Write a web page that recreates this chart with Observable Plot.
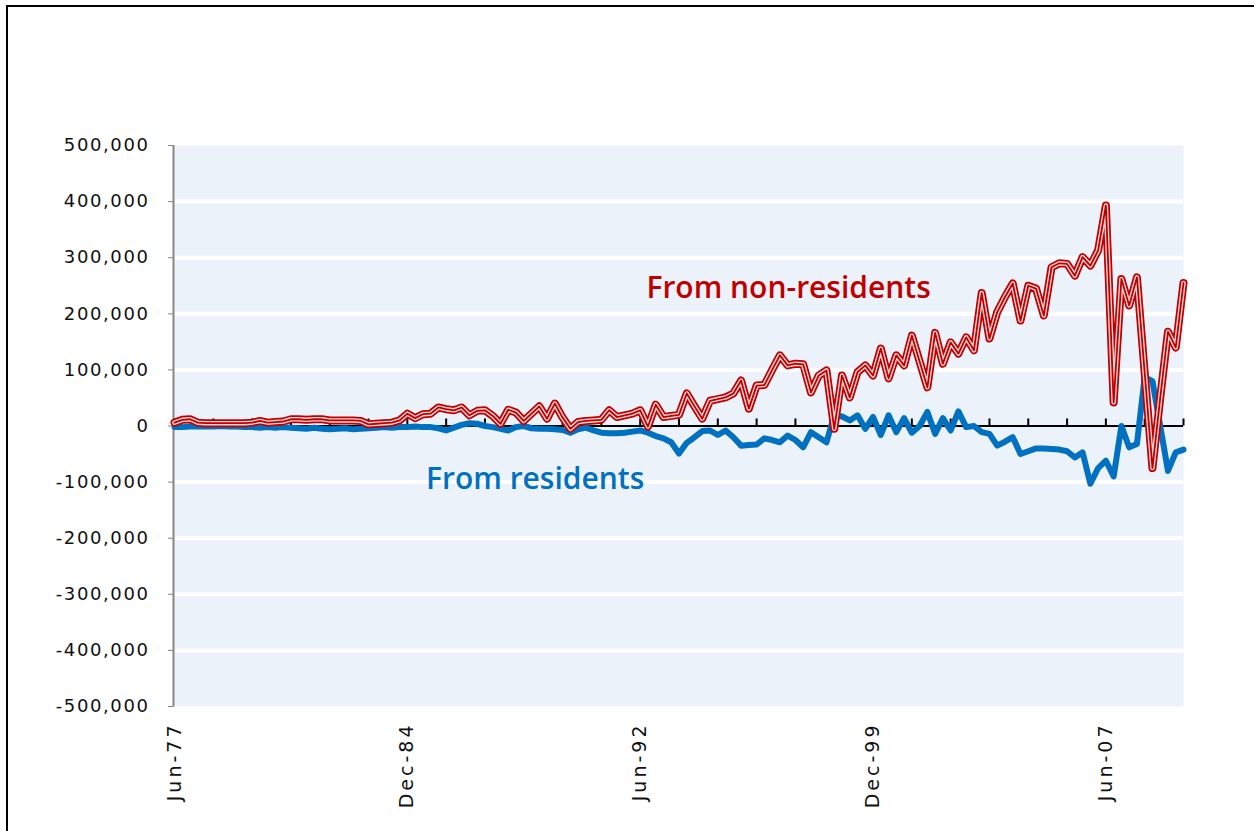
<!DOCTYPE html>
<html><head><meta charset="utf-8">
<script src="https://cdn.jsdelivr.net/npm/d3@7"></script>
<script src="https://cdn.jsdelivr.net/npm/@observablehq/plot@0.6"></script>
<style>
body{margin:0;background:#fff;}
#wrap{position:relative;width:1254px;height:831px;overflow:hidden;}
#frame{position:absolute;left:6px;top:5px;width:1300px;height:900px;border-left:2px solid #000;border-top:2px solid #000;pointer-events:none;z-index:2;}
#wrap svg{position:absolute;left:0;top:0;}
g[aria-label="y-axis tick label"] text{letter-spacing:1.6px;}
g[aria-label="x-axis tick label"] text{letter-spacing:3px;}
</style></head><body><div id="wrap"><div id="frame"></div></div>
<script>
// Quarterly series, Jun-77 (index 0) to Dec-09 (index 130), values in thousands
const nonResidents = [
  6, 11, 12, 6, 5, 5, 5, 5, 5, 5,
  6, 9, 6, 7, 8, 12, 12, 11, 12, 12,
  10, 10, 10, 10, 9, 3, 4, 5, 6, 10,
  22, 14, 21, 22, 33, 30, 28, 33, 19, 27,
  28, 18, 4, 29, 24, 9, 22, 35, 13, 40,
  15, -5, 7, 9, 10, 11, 28, 16, 19, 22,
  28, -1, 38, 16, 18, 20, 58, 35, 13, 45,
  48, 51, 58, 81, 31, 72, 73, 100, 126, 108,
  111, 110, 60, 90, 99, -5, 90, 51, 96, 108,
  90, 138, 85, 126, 108, 161, 115, 69, 166, 111,
  149, 129, 158, 135, 237, 156, 203, 230, 254, 188,
  250, 245, 197, 283, 290, 289, 268, 301, 286, 313,
  393, 42, 262, 215, 265, 95, -75, 50, 168, 140, 255
];
const residents = [
  -2, -2, -1, -1, -1, -1, 0, -1, -1, -2,
  -2, -3, -2, -3, -2, -3, -4, -5, -3, -5,
  -6, -5, -4, -6, -5, -4, -3, -2, -3, -2,
  -2, -1, -2, -2, -4, -8, -3, 2, 5, 4,
  0, -2, -5, -8, -2, 0, -4, -5, -5, -6,
  -7, -12, -6, -3, -8, -12, -13, -13, -12, -10,
  -8, -12, -18, -22, -29, -49, -30, -20, -9, -8,
  -16, -8, -20, -35, -34, -33, -22, -25, -29, -17,
  -25, -38, -11, -20, -29, 19, 17, 10, 19, -5,
  16, -16, 19, -11, 14, -12, 0, 25, -14, 14,
  -8, 26, -2, 0, -11, -14, -35, -28, -20, -50,
  -45, -40, -40, -41, -42, -45, -56, -47, -103, -75,
  -62, -90, 0, -38, -32, 87, 80, 0, -80, -47, -42
];
const xTickPositions = [0, 30, 60, 90, 120];
const xTickLabels = ["Jun-77", "Dec-84", "Jun-92", "Dec-99", "Jun-07"];
const minorTickPositions = d3.range(0, 131, 5);
const yTicks = d3.range(-500000, 500001, 100000);
const gridValues = [-400000, -300000, -200000, -100000, 100000, 200000, 300000, 400000];
const seriesLabels = [
  {text: "From non-residents", q: 60.8, v: 245000, color: "#C00000"},
  {text: "From residents", q: 32.4, v: -95000, color: "#0070C0"}
];

const rows = nonResidents.map((v, i) => ({q: i, nonres: v * 1000, res: residents[i] * 1000}));
const fmt = d3.formatLocale({decimal: ".", thousands: ",", grouping: [3], currency: ["", ""], minus: "-"}).format(",");

const chart = Plot.plot({
  width: 1254,
  height: 831,
  marginLeft: 174,
  marginRight: 71,
  marginTop: 145,
  marginBottom: 125,
  style: {fontFamily: "DejaVu Sans, Verdana, sans-serif", fontSize: "18px", background: "transparent", color: "#111"},
  x: {domain: [0, 130]},
  y: {domain: [-500000, 500000]},
  marks: [
    Plot.frame({fill: "#ECF2FA", stroke: null}),
    Plot.ruleY(gridValues, {stroke: "#ffffff", strokeWidth: 4}),
    Plot.ruleY([0], {stroke: "#000000", strokeWidth: 2}),
    Plot.ruleX(minorTickPositions, {x: d => d, y1: 0, y2: 12500, stroke: "#000000", strokeWidth: 2}),
    Plot.ruleX([0], {y1: -500000, y2: 500000, stroke: "#868686", strokeWidth: 2, dx: -1}),
    Plot.axisY({ticks: yTicks, tickSize: 6, tickPadding: 19, stroke: "#868686", fill: "#111", tickFormat: fmt, fontSize: 18, label: null}),
    Plot.axisX({ticks: xTickPositions, tickSize: 0, tickPadding: 16, tickRotate: -90, tickFormat: d => xTickLabels[xTickPositions.indexOf(d)], fill: "#111", fontSize: 19, label: null}),
    Plot.line(rows, {x: "q", y: "res", stroke: "#0070C0", strokeWidth: 6, strokeLinejoin: "round", strokeLinecap: "round"}),
    Plot.line(rows, {x: "q", y: "nonres", stroke: "#C00000", strokeWidth: 8, strokeLinejoin: "round"}),
    Plot.line(rows, {x: "q", y: "nonres", stroke: "#F6D6D6", strokeWidth: 4.5, strokeLinejoin: "round"}),
    Plot.line(rows, {x: "q", y: "nonres", stroke: "#C00000", strokeWidth: 1.8, strokeLinejoin: "round"}),
    Plot.text(seriesLabels, {x: "q", y: "v", text: "text", fill: "color", textAnchor: "start", fontSize: 30, fontWeight: 600, fontFamily: "Open Sans, sans-serif"})
  ]
});
document.getElementById("wrap").appendChild(chart);
</script>
</body></html>
